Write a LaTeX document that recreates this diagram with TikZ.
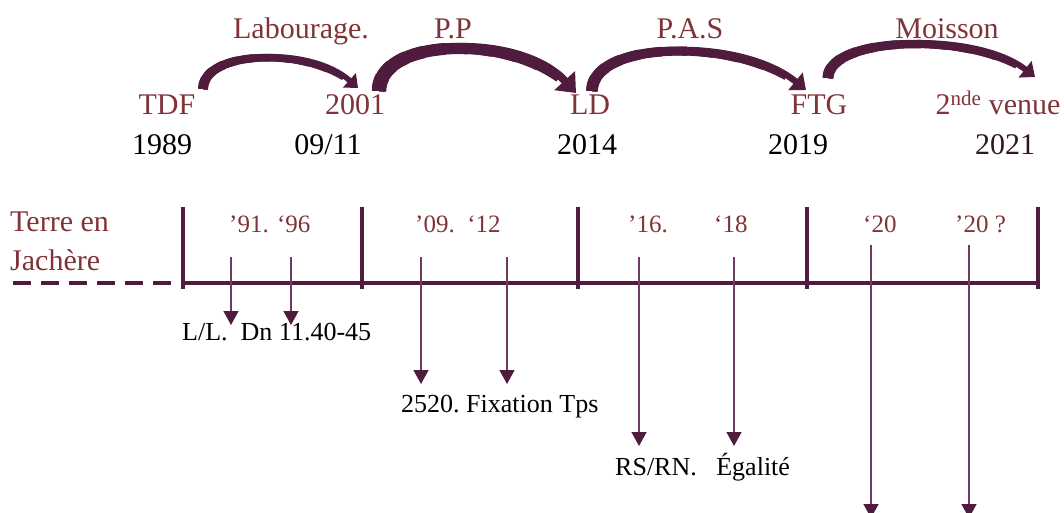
\documentclass[tikz,border=0pt]{standalone}
\usepackage{fontspec}
\setmainfont{Liberation Serif}
\usetikzlibrary{arrows.meta}
\definecolor{plum}{RGB}{80,28,62}
\definecolor{plumlight}{RGB}{112,58,98}
\definecolor{titlered}{RGB}{128,52,56}
\definecolor{darkplum}{RGB}{48,22,40}
% tapering overlay: first parts of a Bezier curve, wider towards its start
\newcommand\taperpart[9]{%
  \foreach \k in {1,...,10}{%
    \pgfmathsetmacro\tv{1-\k/11}%
    \pgfmathsetmacro\ww{#9*(1+0.9*(1-\tv))}%
    \pgfmathsetmacro\ax{#1+\tv*(#3-#1)}\pgfmathsetmacro\ay{#2+\tv*(#4-#2)}%
    \pgfmathsetmacro\bx{#3+\tv*(#5-#3)}\pgfmathsetmacro\by{#4+\tv*(#6-#4)}%
    \pgfmathsetmacro\cx{#5+\tv*(#7-#5)}\pgfmathsetmacro\cy{#6+\tv*(#8-#6)}%
    \pgfmathsetmacro\dx{\ax+\tv*(\bx-\ax)}\pgfmathsetmacro\dy{\ay+\tv*(\by-\ay)}%
    \pgfmathsetmacro\ex{\bx+\tv*(\cx-\bx)}\pgfmathsetmacro\ey{\by+\tv*(\cy-\by)}%
    \pgfmathsetmacro\fx{\dx+\tv*(\ex-\dx)}\pgfmathsetmacro\fy{\dy+\tv*(\ey-\dy)}%
    \draw[draw=plum,line width=\ww pt] (#1,#2) .. controls (\ax,\ay) and (\dx,\dy) .. (\fx,\fy);
  }}
\begin{document}
\begin{tikzpicture}[x=1pt,y=-1pt,
  toplabel/.style={text=titlered,font=\fontsize{30}{36}\selectfont,inner sep=0pt,anchor=base},
  yearlabel/.style={text=black,font=\fontsize{30}{36}\selectfont,inner sep=0pt,anchor=base},
  ticklabel/.style={text=titlered,font=\fontsize{25}{30}\selectfont,inner sep=0pt,anchor=base west},
  eventlabel/.style={text=black,font=\fontsize{26}{31}\selectfont\frenchspacing,inner sep=0pt,anchor=base west},
  mainline/.style={draw=plum,line width=4.5pt},
  majortick/.style={draw=plum,line width=4pt},
  minorarrow/.style={draw=plumlight,line width=1.6pt,-{Triangle[width=15pt,length=14pt,color=plum]}},
  bigarrow/.style={draw=plum,-{Triangle[width=#1*3.4pt,length=#1*2.1pt]},line width=#1 pt}
]
\useasboundingbox (0,0) rectangle (1064,513);

% top labels
\node[toplabel] (lab) at (301,39) {Labourage.};
\node[toplabel] (pp) at (453,39) {P.P};
\node[toplabel] (pas) at (690,39) {P.A.S};
\node[toplabel] (moi) at (947,39) {Moisson};

% stations
\node[toplabel] (tdf) at (167,115) {TDF};
\node[toplabel] (s2001) at (355,115) {2001};
\node[toplabel] (ld) at (590,115) {LD};
\node[toplabel] (ftg) at (819,115) {FTG};
\node[toplabel] (sv) at (998,115) {2\textsuperscript{nde} venue};

\node[yearlabel] (y1989) at (162,155) {1989};
\node[yearlabel] (y0911) at (328,155) {09/11};
\node[yearlabel] (y2014) at (587,155) {2014};
\node[yearlabel] (y2019) at (798,155) {2019};
\node[yearlabel,text=darkplum] (y2021) at (1005,155) {2021};

% curved arrows
\coordinate (c1s) at (203,89);
\coordinate (c1e) at (358,88);
\coordinate (c2s) at (379,91);
\coordinate (c2e) at (576,93);
\coordinate (c3s) at (592,91);
\coordinate (c3e) at (806,90);
\coordinate (c4s) at (828,78);
\coordinate (c4e) at (1035,77);
\draw[bigarrow=5.5] (c1s) .. controls (203,50) and (310,45) .. (c1e);
\taperpart{203}{89}{203}{50}{310}{45}{358}{88}{5.5}
\draw[bigarrow=8] (c2s) .. controls (379,36) and (520,32) .. (c2e);
\taperpart{379}{91}{379}{36}{520}{32}{576}{93}{8}
\draw[bigarrow=6.5] (c3s) .. controls (592,40) and (740,36) .. (c3e);
\taperpart{592}{91}{592}{40}{740}{36}{806}{90}{6.5}
\draw[bigarrow=6] (c4s) .. controls (828,36) and (975,30) .. (c4e);
\taperpart{828}{78}{828}{36}{975}{30}{1035}{77}{6}

% left label
\node[text=titlered,font=\fontsize{30}{36}\selectfont,inner sep=0pt,anchor=base west] (terre) at (10,231) {Terre en};
\node[text=titlered,font=\fontsize{30}{36}\selectfont,inner sep=0pt,anchor=base west] (jach) at (10,270) {Jachère};

% main line
\coordinate (d0) at (13,283);
\coordinate (d1) at (172,283);
\coordinate (t0) at (183,283);
\coordinate (t1) at (362,283);
\coordinate (t2) at (578,283);
\coordinate (t3) at (807,283);
\coordinate (t4) at (1038,283);
\draw[draw=plum,line width=4.5pt,dash pattern=on 18pt off 10pt] (d0) -- (d1);
\draw[mainline] (t0) -- (t4);
\foreach \t in {t0,t1,t2,t3,t4}
  \draw[majortick] ([yshift=76pt]\t) -- ([yshift=-6pt]\t);

% tick labels
\node[ticklabel] (l1) at (229,232) {’91. ‘96};
\node[ticklabel] (l2) at (415,232) {’09.\ \ ‘12};
\node[ticklabel] (l3) at (628,232) {’16.};
\node[ticklabel] (l4) at (714,232) {‘18};
\node[ticklabel] (l5) at (863,232) {‘20};
\node[ticklabel] (l6) at (955,232) {’20 ?};

% events
\node[eventlabel] (e1) at (182,340) {L/L.\ \ Dn 11.40-45};
\node[eventlabel] (e2) at (401,412) {2520. Fixation Tps};
\node[eventlabel] (e3) at (615,475) {RS/RN.\ \ \ Égalité};

% minor arrows
\foreach \x/\top/\bot in {231/257/325, 291/257/325, 421/257/384, 507/257/384, 639/257/446, 734/257/446, 871/245/518, 969/245/518}
  \draw[minorarrow] (\x,\top) coordinate (m\x) -- (\x,\bot) coordinate (n\x);
\end{tikzpicture}
\end{document}
